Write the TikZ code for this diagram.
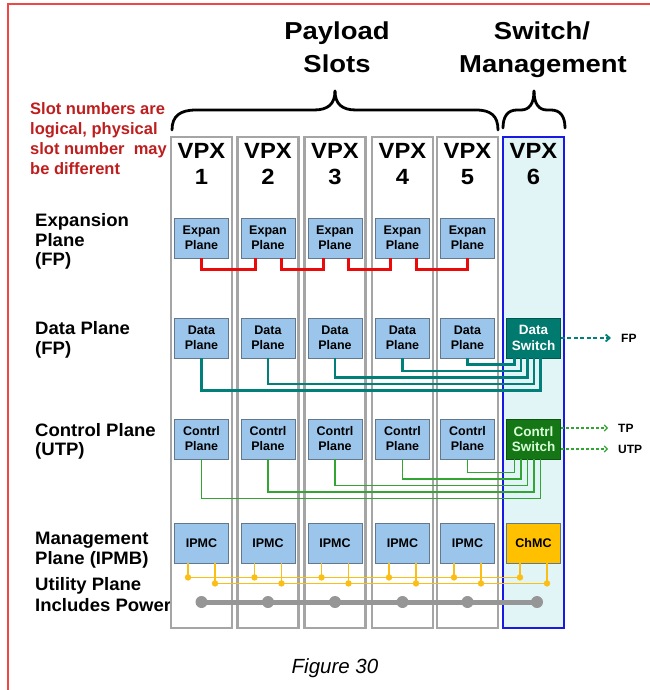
\documentclass[tikz,border=0pt]{standalone}
\usepackage{fontspec}
\setmainfont{Liberation Sans}
\newfontfamily\widesans[FakeStretch=1.12]{Liberation Sans}
\newfontfamily\midsans[FakeStretch=1.08]{Liberation Sans}
\newfontfamily\lblsans[FakeStretch=1.03]{Liberation Sans}
\usetikzlibrary{arrows.meta,calc}
\definecolor{boxfill}{RGB}{155,197,235}
\definecolor{boxline}{RGB}{100,120,140}
\definecolor{colgray}{RGB}{165,165,165}
\definecolor{swfill}{RGB}{225,245,247}
\definecolor{swblue}{RGB}{25,25,230}
\definecolor{tealsw}{RGB}{0,122,110}
\definecolor{teall}{RGB}{0,128,120}
\definecolor{greensw}{RGB}{20,118,20}
\definecolor{greenl}{RGB}{50,165,50}
\definecolor{gold}{RGB}{255,192,0}
\definecolor{yell}{RGB}{250,190,20}
\definecolor{busgray}{RGB}{150,150,150}
\definecolor{redc}{RGB}{235,10,10}
\definecolor{redtext}{RGB}{190,30,30}
\definecolor{framered}{RGB}{240,70,70}
\tikzset{
  colbox/.style={draw=colgray, line width=2.2pt, minimum width=61pt, minimum height=491pt, inner sep=0pt},
  pbox/.style={draw=boxline, line width=0.8pt, fill=boxfill, minimum width=54pt, minimum height=40pt, inner sep=0pt, align=center, font=\bfseries\fontsize{12.5}{15}\selectfont},
  redl/.style={draw=redc, line width=3pt},
  dl/.style={draw=teall, line width=2.6pt},
  cl/.style={draw=greenl, line width=1.2pt},
  yl/.style={draw=yell, line width=1.8pt},
  lbl/.style={anchor=base west, inner sep=0pt, font=\lblsans\bfseries\fontsize{18}{20}\selectfont},
  redlbl/.style={anchor=base west, inner sep=0pt, text=redtext, font=\bfseries\fontsize{16.5}{18}\selectfont},
  title/.style={anchor=base, inner sep=0pt, font=\widesans\bfseries\fontsize{24.5}{28}\selectfont},
  vpx/.style={anchor=base, inner sep=0pt, font=\midsans\bfseries\fontsize{22}{24}\selectfont},
  outlbl/.style={anchor=west, inner sep=0pt, font=\bfseries\fontsize{12}{14}\selectfont},
  brace/.style={draw=black, line width=2.8pt, line cap=round},
}
\begin{document}
\begin{tikzpicture}[x=1pt,y=-1pt]
\useasboundingbox (0,0) rectangle (649,690);
\fill[white] (0,0) rectangle (649,690);
\draw[framered, line width=1.2pt] (8,700) -- (8,4) -- (660,4);

% titles
\node[title] (t1) at (337,40) {Payload};
\node[title] (t2) at (337,73) {Slots};
\node[title] (t3) at (542,40) {Switch/};
\node[title] (t4) at (543,73) {Management};

% braces
\draw[brace] (172,130) .. controls (172,116) and (180,110) .. (196,110) -- (314,110) .. controls (328,110) and (335,104) .. (335,91);
\draw[brace] (335,91) .. controls (335,104) and (342,110) .. (356,110) -- (476,110) .. controls (491,110) and (498,116) .. (498,130);
\draw[brace] (503,128) .. controls (503,116) and (508,110) .. (517,110) -- (521,110) .. controls (529,110) and (534,104) .. (534,91);
\draw[brace] (534,91) .. controls (534,104) and (539,110) .. (547,110) -- (551,110) .. controls (560,110) and (565,116) .. (565,128);

% red note
\node[redlbl] (r1) at (30,114) {Slot numbers are};
\node[redlbl] (r2) at (30,134) {logical, physical};
\node[redlbl] (r3) at (30,154) {slot number\ \ may};
\node[redlbl] (r4) at (30,174) {be different};

% left labels
\node[lbl] (la1) at (35,226) {Expansion};
\node[lbl] (la2) at (35,246) {Plane};
\node[lbl] (la3) at (35,265) {(FP)};
\node[lbl] (lb1) at (35,334) {Data Plane};
\node[lbl] (lb2) at (35,354) {(FP)};
\node[lbl] (lc1) at (35,436) {Control Plane};
\node[lbl] (lc2) at (35,455) {(UTP)};
\node[lbl] (ld1) at (35,544) {Management};
\node[lbl] (ld2) at (35,564) {Plane (IPMB)};
\node[lbl] (le1) at (35,590) {Utility Plane};
\node[lbl] (le2) at (35,611) {Includes Power};

% columns
\foreach \i/\cx in {1/201.5,2/268,3/335,4/402.5,5/467.5} {
  \node[colbox] (col\i) at (\cx,382.5) {};
  \node[vpx] (v\i) at (\cx,158) {VPX};
  \node[vpx] (n\i) at (\cx,184) {\i};
  \node[pbox] (e\i) at (\cx,238) {Expan\\Plane};
  \node[pbox] (d\i) at (\cx,338) {Data\\Plane};
  \node[pbox] (c\i) at (\cx,439) {Contrl\\Plane};
  \node[pbox] (m\i) at (\cx,543) {IPMC};
}
\node[colbox, draw=swblue, fill=swfill] (col6) at (533.5,382.5) {};
\node[vpx] (v6) at (533.5,158) {VPX};
\node[vpx] (n6) at (533.5,184) {6};
\node[pbox, fill=tealsw, draw=tealsw!70!black, text=white, font=\bfseries\fontsize{13.5}{15.5}\selectfont] (ds) at (533.5,338) {Data\\Switch};
\node[pbox, fill=greensw, draw=greensw!70!black, text=green!15, font=\bfseries\fontsize{13.5}{15.5}\selectfont] (cs) at (533.5,439) {Contrl\\Switch};
\node[pbox, fill=gold, draw=boxline] (m6) at (533.5,543) {ChMC};

% expansion links
\draw[redl] (e1.south) -- ++(0,11) -| ([xshift=-13pt]e2.south);
\draw[redl] ([xshift=13pt]e2.south) -- ++(0,11) -| ([xshift=-12pt]e3.south);
\draw[redl] ([xshift=13pt]e3.south) -- ++(0,11) -| ([xshift=-12.5pt]e4.south);
\draw[redl] ([xshift=13.5pt]e4.south) -- ++(0,11) -| (e5.south);

% data links
\draw[dl] (d1.south) -- ++(0,32) -| ([xshift=7pt]ds.south);
\draw[dl] (d2.south) -- ++(0,25.5) -| ([xshift=0.5pt]ds.south);
\draw[dl] (d3.south) -- ++(0,19) -| ([xshift=-6pt]ds.south);
\draw[dl] (d4.south) -- ++(0,12.5) -| ([xshift=-12.5pt]ds.south);
\draw[dl] (d5.south) -- ++(0,6) -| ([xshift=-19pt]ds.south);

% control links
\draw[cl] (c1.south) -- ++(0,39) -| ([xshift=7pt]cs.south);
\draw[cl] (c2.south) -- ++(0,32.5) -| ([xshift=0.5pt]cs.south);
\draw[cl] (c3.south) -- ++(0,26) -| ([xshift=-6pt]cs.south);
\draw[cl] (c4.south) -- ++(0,19.5) -| ([xshift=-12.5pt]cs.south);
\draw[cl] (c5.south) -- ++(0,13) -| ([xshift=-19pt]cs.south);

% outgoing
\node[outlbl] (fp) at (621,338) {FP};
\node[outlbl] (tp) at (618,428) {TP};
\node[outlbl] (utp) at (618,449) {UTP};
\draw[teall, line width=1.8pt, dash pattern=on 4pt off 2.5pt, -{Straight Barb[length=4pt,width=7pt]}, shorten >=10pt] (ds.east) -- (fp.west);
\draw[greenl, line width=1.1pt, dash pattern=on 3pt off 2pt, -{Straight Barb[length=3pt,width=6pt]}, shorten >=10pt] (tp.west -| cs.east) -- (tp.west);
\draw[greenl, line width=1.1pt, dash pattern=on 3pt off 2pt, -{Straight Barb[length=3pt,width=6pt]}, shorten >=10pt] (utp.west -| cs.east) -- (utp.west);

% management bus
\foreach \i in {1,...,6} {
  \draw[yl] ([xshift=-13.5pt]m\i.south) -- ++(0,14) coordinate (ua\i);
  \draw[yl] ([xshift=13.5pt]m\i.south) -- ++(0,20) coordinate (ub\i);
}
\draw[yl] (ua1) -- (ua6);
\draw[yl] (ub1) -- (ub6);
\foreach \i in {1,...,6} {
  \fill[yell] (ua\i) circle (3.2pt);
  \fill[yell] (ub\i) circle (3.2pt);
}

% utility bus
\foreach \i in {1,...,5} { \coordinate (g\i) at (col\i.center |- 0,602); }
\coordinate (g6) at ([xshift=3.5pt]col6.center |- 0,602);
\draw[busgray, line width=5pt] (g1) -- (g6);
\foreach \i in {1,...,6} { \fill[busgray] (g\i) circle (6pt); }

% caption
\node[anchor=base, inner sep=0pt, font=\itshape\fontsize{20.5}{23}\selectfont] (cap) at (335,673) {Figure 30};
\end{tikzpicture}
\end{document}
